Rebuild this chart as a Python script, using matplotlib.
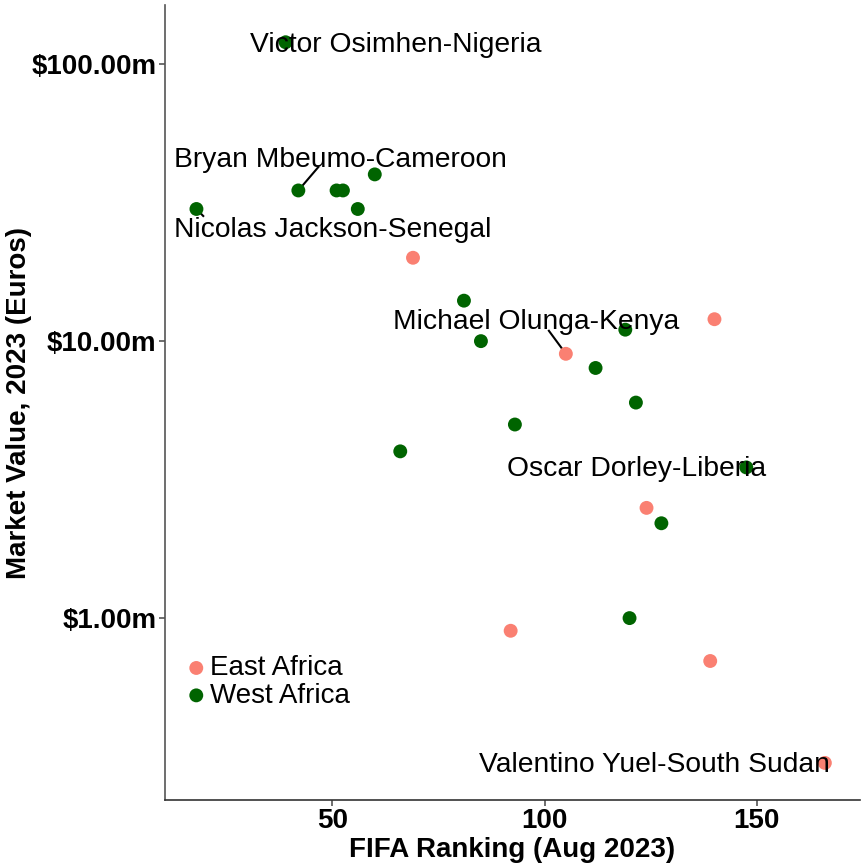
import matplotlib.pyplot as plt
from matplotlib.ticker import FuncFormatter

plt.rcParams['font.family'] = ['Liberation Sans', 'DejaVu Sans']

# FIFA ranking (Aug 2023) and market value (million euros)
east_rank = [69, 105, 140, 124, 92, 139, 166]
east_value = [20, 9, 12, 2.5, 0.9, 0.7, 0.3]

west_rank = [39, 42, 51, 52.5, 60, 56, 18, 81, 85, 119, 112, 121.5, 93, 66, 147.5, 127.5, 120]
west_value = [120, 35, 35, 35, 40, 30, 30, 14, 10, 11, 8, 6, 5, 4, 3.5, 2.2, 1.0]

# labelled players: name, label x, label y
label_names = ['Victor Osimhen-Nigeria', 'Bryan Mbeumo-Cameroon', 'Nicolas Jackson-Senegal',
               'Michael Olunga-Kenya', 'Oscar Dorley-Liberia', 'Valentino Yuel-South Sudan']
label_x = [65, 51.8, 50, 98.1, 121.6, 125.9]
label_y = [117, 45.2, 25.2, 11.7, 3.44, 0.295]

fig, ax = plt.subplots(figsize=(8.64, 8.64), dpi=100)
fig.subplots_adjust(left=0.191, right=0.995, top=0.994, bottom=0.074)

ax.scatter(east_rank, east_value, s=100, color='#FA8072', edgecolors='none',
           label='East Africa', zorder=3)
ax.scatter(west_rank, west_value, s=100, color='#006400', edgecolors='none',
           label='West Africa', zorder=3)

for name, tx, ty in zip(label_names, label_x, label_y):
    ax.text(tx, ty, name, fontsize=20.3, ha='center', va='center', zorder=4)

# short connector segments (ggrepel style)
ax.plot([42, 46.7], [35, 42.5], color='black', lw=1.5, zorder=2)
ax.plot([18, 19.6], [30, 28.3], color='black', lw=1.5, zorder=2)
ax.plot([105, 101], [9, 10.9], color='black', lw=1.5, zorder=2)

ax.set_yscale('log')
ax.set_xlim(10.6, 174.2)
ax.set_ylim(10 ** -0.657, 10 ** 2.213)
ax.set_xticks([50, 100, 150])
ax.set_yticks([1, 10, 100])
ax.yaxis.set_major_formatter(FuncFormatter(lambda v, p: f'${v:.2f}m'))
ax.yaxis.set_minor_locator(plt.NullLocator())

ax.set_xlabel('FIFA Ranking (Aug 2023)', fontsize=20, fontweight='bold', labelpad=2)
ax.set_ylabel('Market Value, 2023 (Euros)', fontsize=20, fontweight='bold', labelpad=0)
for lbl in ax.get_xticklabels() + ax.get_yticklabels():
    lbl.set_fontweight('bold')
ax.tick_params(labelsize=20, color='#555555', length=4, width=1.2, pad=2)

for side in ['top', 'right']:
    ax.spines[side].set_visible(False)
ax.spines['left'].set_color('#555555')
ax.spines['bottom'].set_color('#333333')
ax.spines['left'].set_linewidth(1.2)
ax.spines['bottom'].set_linewidth(1.2)

ax.legend(loc='lower left', bbox_to_anchor=(0.033, 0.115), frameon=False, fontsize=20,
          handlelength=0.6, handletextpad=0.2, labelspacing=0.05, borderaxespad=0,
          borderpad=0)

plt.savefig('out.png', dpi=100)
